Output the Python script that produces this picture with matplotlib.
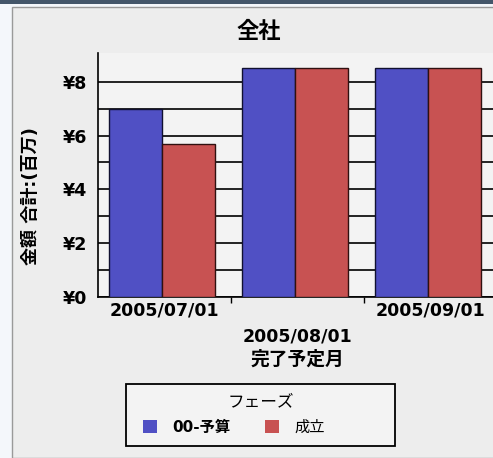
import matplotlib as mpl
import matplotlib.pyplot as plt
from matplotlib.patches import Rectangle, Patch

mpl.rcParams['font.family'] = ['DejaVu Sans', 'Noto Sans CJK JP']

# chart data
months = ['2005/07/01', '2005/08/01', '2005/09/01']
budget = [7.0, 8.5, 8.5]     # 00-予算
closed = [5.7, 8.5, 8.5]     # 成立
series_names = ['00-予算', '成立']
yticks = [0, 2, 4, 6, 8]
ytick_labels = ['¥0', '¥2', '¥4', '¥6', '¥8']

blue = '#5050c4'
red = '#c85252'

W, H = 493, 458
fig = plt.figure(figsize=(W / 100, H / 100), dpi=100, facecolor='#f4f7fb')

# panel behind the chart
fig.patches.append(Rectangle((12 / W, 0), 1, 1 - 7 / H, transform=fig.transFigure,
                             facecolor='#ededed', edgecolor='#9a9a9a', lw=1.0, zorder=-2))
fig.patches.append(Rectangle((0, 1 - 4 / H), 1, 4 / H, transform=fig.transFigure,
                             facecolor='#44566a', edgecolor='none', zorder=-2))

ax = fig.add_axes([98 / W, 1 - 297 / H, 399 / W, 244 / H], zorder=1)
ax.set_facecolor('#f3f3f3')

x = range(len(months))
w = 0.4
ax.bar([i - 0.22 for i in x], budget, w, color=blue, edgecolor='#101030', lw=1.0, zorder=3)
ax.bar([i + 0.18 for i in x], closed, w, color=red, edgecolor='#301010', lw=1.0, zorder=3)

ax.set_xlim(-0.5, 2.5)
ax.set_ylim(0, 9.07)

ax.set_yticks(yticks)
ax.set_yticklabels(ytick_labels, fontsize=12.5, fontweight='bold')
ax.set_yticks([1, 3, 5, 7], minor=True)
ax.tick_params(axis='y', which='both', length=0, pad=8)
ax.grid(axis='y', which='both', color='black', lw=1.2, zorder=1)
ax.set_axisbelow(True)

ax.set_xticks(list(x))
ax.set_xticklabels(months, fontsize=12.5, fontweight='bold')
ax.set_xticks([0.5, 1.5], minor=True)
ax.tick_params(axis='x', which='major', length=0, pad=3)
ax.tick_params(axis='x', which='minor', length=4, width=1, direction='out')
ax.xaxis.get_major_ticks()[1].set_pad(22)

for s in ['top', 'right']:
    ax.spines[s].set_visible(False)
for s in ['left', 'bottom']:
    ax.spines[s].set_linewidth(1.2)

ax.set_xlabel('完了予定月', fontsize=13.5, fontweight='bold', labelpad=3)
ax.set_ylabel('金額 合計:(百万)', fontsize=13, fontweight='bold')
ax.yaxis.set_label_coords(-0.145, 0.414)

fig.text(259 / W, 1 - 31 / H, '全社', fontsize=16, fontweight='bold', ha='center', va='center')

# legend: frame and title drawn by hand, entries left aligned like the original
fig.patches.append(Rectangle((126 / W, 1 - 446 / H), 269 / W, 62 / H, transform=fig.transFigure,
                             facecolor='#f3f3f3', edgecolor='black', lw=1.3, zorder=2))
fig.text(261 / W, 1 - 401 / H, 'フェーズ', fontsize=12, ha='center', va='center', zorder=3)
handles = [Patch(facecolor=blue), Patch(facecolor=red)]
leg = fig.legend(handles, series_names, ncol=2, loc='center left',
                 bbox_to_anchor=(143 / W, 1 - 427 / H), frameon=False,
                 fontsize=11, handlelength=0.9, handleheight=0.9, handletextpad=1.0,
                 borderpad=0, borderaxespad=0, columnspacing=2.3)
leg.set_zorder(3)
leg.get_texts()[0].set_fontweight('bold')

fig.savefig('out.png', dpi=100, facecolor=fig.get_facecolor())
